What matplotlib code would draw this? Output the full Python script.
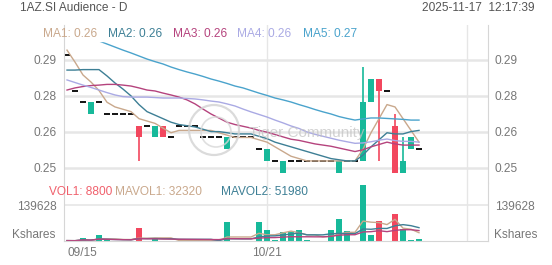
import matplotlib
matplotlib.use('Agg')
import matplotlib.pyplot as plt
from matplotlib.patches import Ellipse, Rectangle
import numpy as np
import pandas as pd

plt.rcParams['font.family'] = ['Liberation Sans', 'DejaVu Sans']

# daily bars, 09/15 .. 11/17
opens = [0.295, 0.280, 0.275, 0.270, 0.275, 0.270, 0.270, 0.270, 0.270, 0.265,
         0.265, 0.260, 0.265, 0.260, 0.265, 0.265, 0.265, 0.260, 0.260, 0.260,
         0.255, 0.260, 0.260, 0.260, 0.255, 0.250, 0.250, 0.245, 0.250, 0.250,
         0.250, 0.250, 0.250, 0.250, 0.245, 0.250, 0.250, 0.250, 0.275, 0.285,
         0.280, 0.265, 0.245, 0.255, 0.255]
closes = [0.295, 0.280, 0.275, 0.275, 0.275, 0.270, 0.270, 0.270, 0.270, 0.260,
          0.265, 0.265, 0.260, 0.260, 0.265, 0.265, 0.265, 0.260, 0.260, 0.260,
          0.260, 0.260, 0.260, 0.260, 0.255, 0.255, 0.250, 0.250, 0.250, 0.250,
          0.250, 0.250, 0.250, 0.250, 0.250, 0.250, 0.250, 0.275, 0.285, 0.280,
          0.280, 0.245, 0.250, 0.260, 0.255]
highs = [0.295, 0.280, 0.275, 0.275, 0.275, 0.270, 0.270, 0.270, 0.270, 0.265,
         0.265, 0.265, 0.265, 0.260, 0.265, 0.265, 0.265, 0.260, 0.260, 0.260,
         0.260, 0.260, 0.260, 0.260, 0.255, 0.255, 0.250, 0.250, 0.250, 0.250,
         0.250, 0.250, 0.250, 0.250, 0.250, 0.250, 0.250, 0.290, 0.285, 0.285,
         0.280, 0.270, 0.260, 0.260, 0.255]
lows = [0.295, 0.280, 0.275, 0.270, 0.275, 0.270, 0.270, 0.270, 0.270, 0.250,
        0.265, 0.260, 0.260, 0.260, 0.265, 0.265, 0.265, 0.260, 0.260, 0.260,
        0.255, 0.260, 0.260, 0.260, 0.255, 0.250, 0.250, 0.245, 0.250, 0.250,
        0.250, 0.250, 0.250, 0.250, 0.245, 0.250, 0.250, 0.250, 0.275, 0.250,
        0.280, 0.245, 0.245, 0.255, 0.255]
volumes = [1500, 1000, 9800, 1500, 23500, 3000, 500, 500, 1000, 50800,
           1000, 5900, 1500, 1000, 500, 2000, 1000, 500, 1000, 1500,
           74300, 1000, 500, 500, 74300, 43000, 4000, 37000, 34000, 43000,
           3000, 500, 500, 43000, 86000, 39000, 1700, 218200, 22300, 77000,
           800, 104000, 46000, 2000, 8800]

# moving-average values before each window is complete (history not on chart)
ma1_head = [0.2972, 0.2921, 0.2866, 0.2836]
ma2_head = [0.2887, 0.2887, 0.2889, 0.2889, 0.2889, 0.2862, 0.2832, 0.2806, 0.2777]
ma3_head = [0.2802, 0.2811, 0.2817, 0.2821, 0.2823, 0.2826, 0.2826, 0.2823, 0.2819, 0.2811,
            0.2802, 0.2798, 0.2789, 0.2781, 0.2772, 0.2760, 0.2743, 0.2721, 0.2700]
ma4_head = [0.2845, 0.2834, 0.2823, 0.2813, 0.2802, 0.2791, 0.2781, 0.2774, 0.2772, 0.2772,
            0.2772, 0.2770, 0.2768, 0.2768, 0.2768, 0.2766, 0.2764, 0.2760, 0.2755, 0.2751,
            0.2743, 0.2734, 0.2721, 0.2709, 0.2698, 0.2687, 0.2674, 0.2662, 0.2649]
ma5 = [0.3062, 0.3049, 0.3036, 0.3023, 0.3011, 0.2998, 0.2985, 0.2972, 0.2960, 0.2947,
       0.2934, 0.2923, 0.2913, 0.2900, 0.2889, 0.2879, 0.2870, 0.2860, 0.2849, 0.2840,
       0.2830, 0.2819, 0.2811, 0.2800, 0.2789, 0.2779, 0.2768, 0.2760, 0.2751, 0.2740,
       0.2730, 0.2719, 0.2709, 0.2700, 0.2689, 0.2681, 0.2674, 0.2679, 0.2683, 0.2683,
       0.2681, 0.2679, 0.2677, 0.2674, 0.2674]

date_ticks = [0, 25, 50]
date_labels = ['09/15', '10/21', '']
price_ticks = [0.2930, 0.2777, 0.2624, 0.2471]
vol_tick = 139628

UP = '#17b99a'
DOWN = '#f2475e'
MA_COLORS = ['#c9a88c', '#3d7f95', '#b5437d', '#aaaae4', '#4aa3cc']
GRID = '#e6e6e6'
FRAME = '#d6d6d6'
TXT = '#777777'
FS = 8.6


def sma(head, n):
    s = pd.Series(closes).rolling(n).mean().to_numpy()
    s[:n - 1] = head
    return s


mas = [sma(ma1_head, 5), sma(ma2_head, 10), sma(ma3_head, 20), sma(ma4_head, 30), np.array(ma5)]

vol = pd.Series(volumes)
mavol1 = vol.rolling(5, min_periods=1).mean()
mavol2 = vol.rolling(10, min_periods=1).mean()
mavol3 = vol.rolling(20, min_periods=1).mean()

idx = np.arange(len(closes))
o = np.array(opens)
c = np.array(closes)
h = np.array(highs)
l = np.array(lows)
up = c > o
down = c < o
flat = c == o
bar_colors = np.where(down, DOWN, UP)

fig = plt.figure(figsize=(5.52, 2.65), dpi=100)
ax = fig.add_axes([64 / 552, 1 - 183 / 265, 424 / 552, 158 / 265])
axv = fig.add_axes([64 / 552, 1 - 241 / 265, 424 / 552, 58 / 265], sharex=ax)

# price panel
ax.bar(idx[up], (c - o)[up], bottom=o[up], width=0.75, color=UP, zorder=2)
ax.bar(idx[down], (o - c)[down], bottom=c[down], width=0.75, color=DOWN, zorder=2)
ax.vlines(idx[~flat], l[~flat], h[~flat], colors=bar_colors[~flat], lw=1.2, zorder=2)
ax.hlines(c[flat], idx[flat] - 0.375, idx[flat] + 0.375, colors='black', lw=1.3, zorder=2)
for ma, col in zip(mas, MA_COLORS):
    ax.plot(idx, ma, color=col, lw=1.0, zorder=2.5)

ax.add_patch(Rectangle((0, 0.899), 0.12, 0.101, transform=ax.transAxes,
                       color='white', zorder=3))

ax.set_xlim(-0.375, 52.625)
ax.set_ylim(0.2406, 0.3079)
ax.set_yticks(price_ticks)
ax.set_yticklabels(['%.2f' % t for t in price_ticks])
ax.grid(axis='y', color=GRID, lw=1.8, zorder=0)
ax.set_axisbelow(True)
ax.tick_params(axis='y', length=0, labelleft=True, labelright=True,
               labelsize=FS, labelcolor=TXT, pad=5)
ax.tick_params(axis='x', length=0, labelbottom=False)
for s in ['top', 'bottom']:
    ax.spines[s].set_visible(False)
for s in ['left', 'right']:
    ax.spines[s].set_color(FRAME)
    ax.spines[s].set_zorder(4)

# volume panel
axv.bar(idx, volumes, width=0.75, color=bar_colors, zorder=2)
axv.plot(idx, mavol1, color=MA_COLORS[0], lw=1.0, zorder=2.5)
axv.plot(idx, mavol2, color=MA_COLORS[1], lw=1.0, zorder=2.5)
axv.plot(idx, mavol3, color=MA_COLORS[2], lw=1.0, zorder=2.5)
axv.set_ylim(0, max(volumes) * 1.036)
axv.set_yticks([vol_tick])
axv.set_yticklabels([str(vol_tick)])
axv.grid(axis='y', color=GRID, lw=1.2, zorder=0)
axv.set_axisbelow(True)
axv.tick_params(axis='y', length=0, labelleft=True, labelright=True,
                labelsize=FS, labelcolor=TXT, pad=5)
axv.set_xticks(date_ticks)
axv.set_xticklabels(date_labels)
axv.get_xticklabels()[0].set_ha('left')
axv.tick_params(axis='x', length=0, labelsize=FS, labelcolor=TXT, pad=4)
axv.spines['top'].set_visible(False)
for s in ['left', 'right', 'bottom']:
    axv.spines[s].set_color(FRAME)
axv.text(-0.02, 0, 'Kshares', transform=axv.transAxes, ha='right', va='bottom',
         fontsize=FS, color=TXT)
axv.text(1.014, 0, 'Kshares', transform=axv.transAxes, ha='left', va='bottom',
         fontsize=FS, color=TXT)

for t in date_ticks[1:]:
    ax.axvline(t, color=GRID, lw=1, zorder=1)
    axv.axvline(t, color=GRID, lw=1, zorder=1)

# headers and legends
fig.text(20 / 552, 1 - 8 / 265, '1AZ.SI Audience - D', fontsize=FS, color='#555555', va='center')
fig.text(535 / 552, 1 - 8 / 265, '2025-11-17  12:17:39', fontsize=FS, color='#555555',
         va='center', ha='right')

ma_x = [43, 108, 173, 237, 303]
for k, (ma, col, x) in enumerate(zip(mas, MA_COLORS, ma_x)):
    fig.text(x / 552, 1 - 34 / 265, 'MA%d: %.2f' % (k + 1, ma[-1]), fontsize=FS,
             color=col, va='center')

vol_legend = [('VOL1: %d' % volumes[-1], '#f0606c', 49),
              ('MAVOL1: %d' % round(mavol1.iloc[-1]), MA_COLORS[0], 115),
              ('MAVOL2: %d' % round(mavol2.iloc[-1]), MA_COLORS[1], 221)]
for txt, col, x in vol_legend:
    fig.text(x / 552, 1 - 192 / 265, txt, fontsize=FS, color=col, va='center')

# watermark
fig.add_artist(Ellipse((214 / 552, 1 - 130 / 265), 50 / 552, 50 / 265, transform=fig.transFigure,
                       fill=False, ec='#d2d2d2', lw=1.6, alpha=0.8, zorder=10))
fig.add_artist(Ellipse((216 / 552, 1 - 132 / 265), 30 / 552, 30 / 265, transform=fig.transFigure,
                       fill=False, ec='#d8d8d8', lw=1.2, alpha=0.8, zorder=10))
fig.text(307 / 552, 1 - 133 / 265, 'Tiger Community', fontsize=11, color='#c4c4c4',
         alpha=0.75, ha='center', va='center', zorder=10)

fig.savefig('out.png', dpi=100)
